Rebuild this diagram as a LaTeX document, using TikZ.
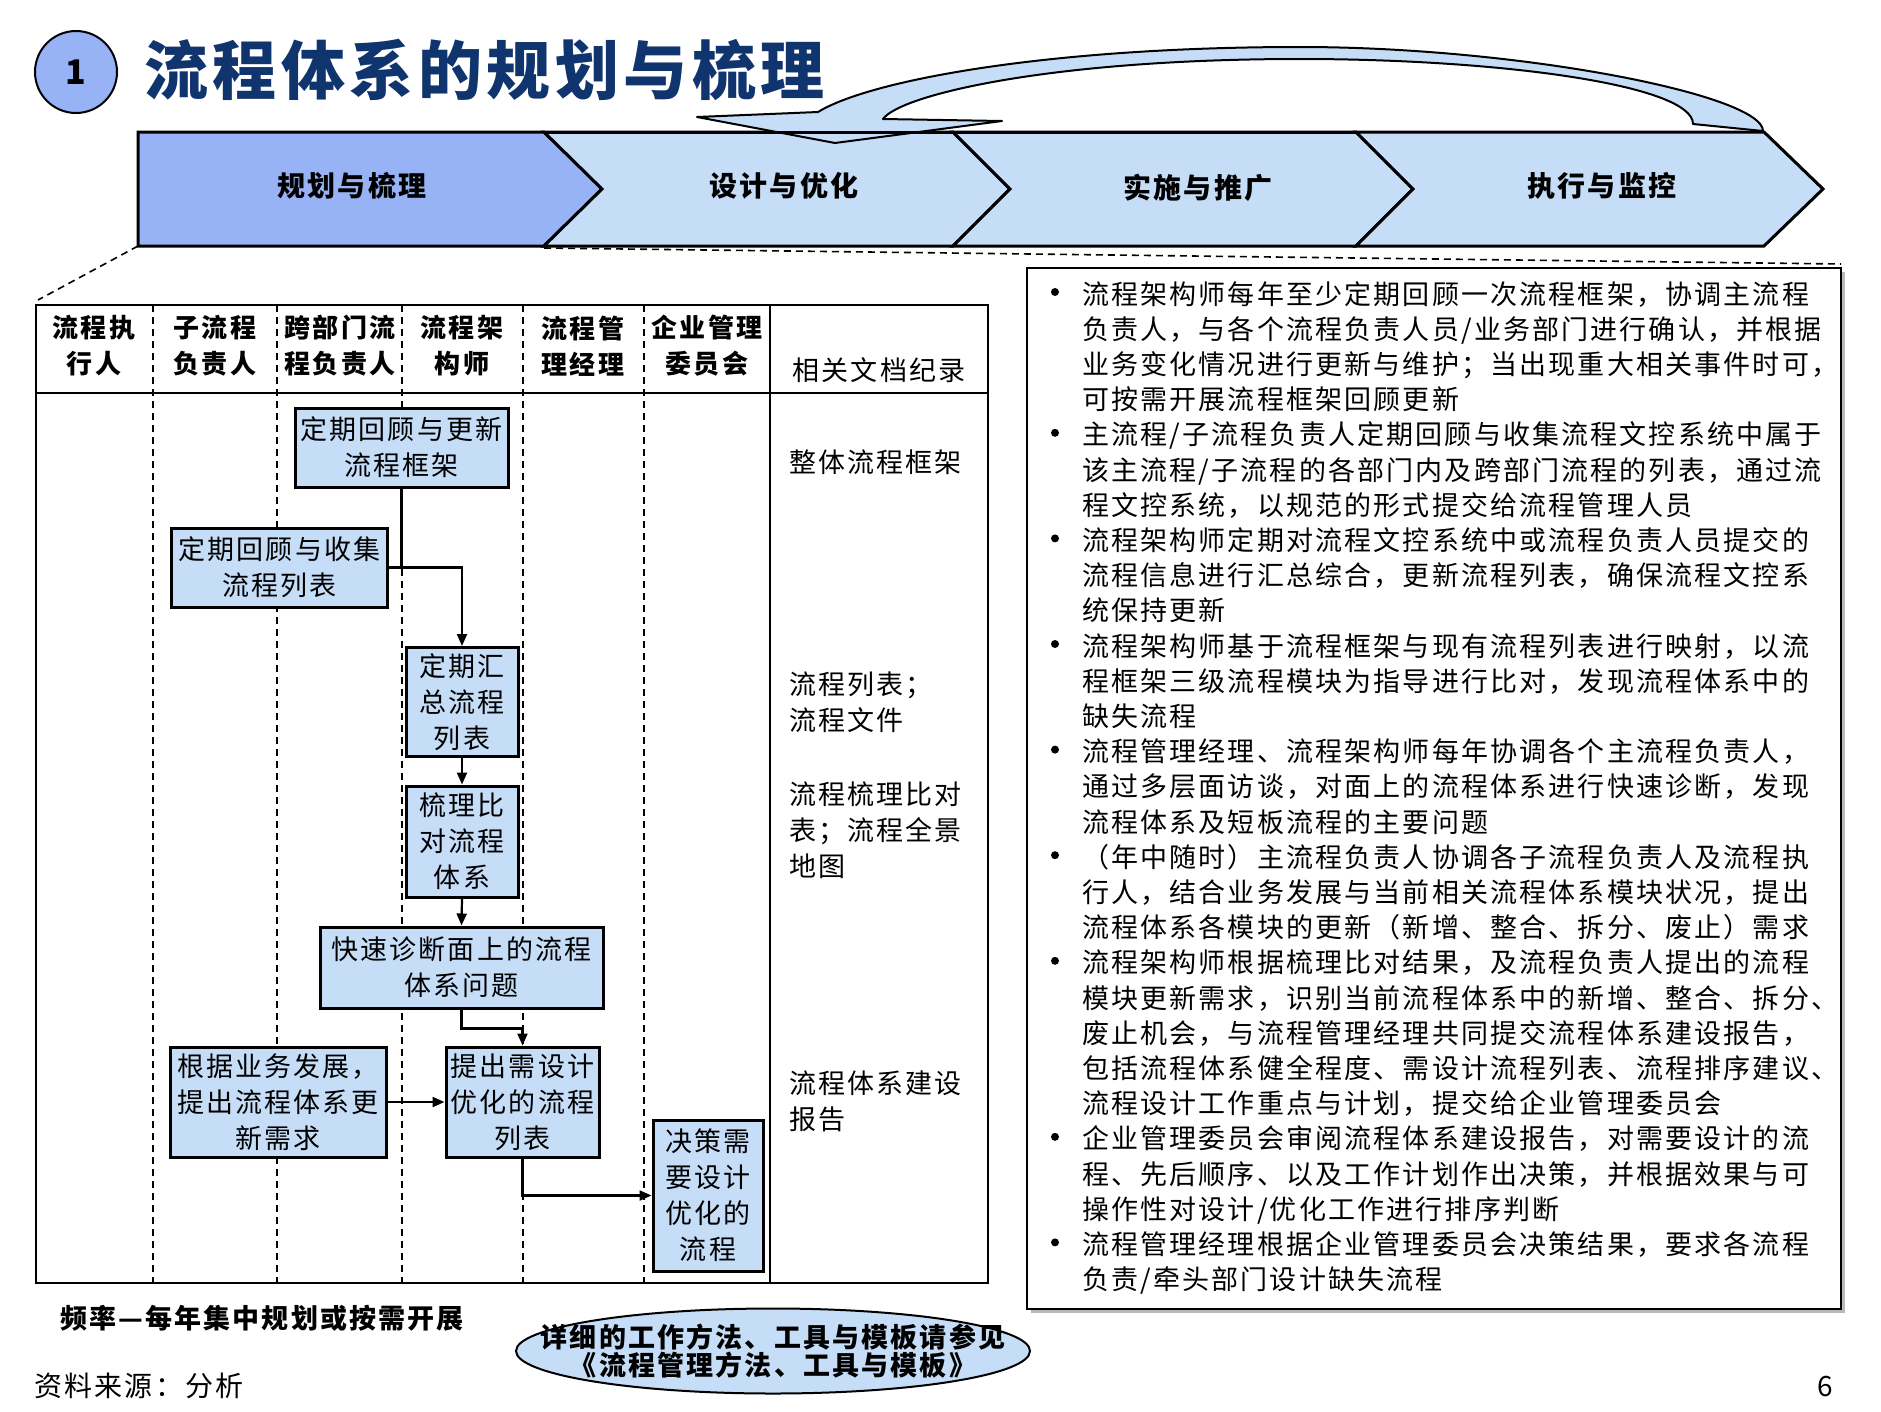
\documentclass[tikz,border=0pt]{standalone}
\usepackage{fontspec}
\setmainfont{Noto Sans CJK SC}[LetterSpace=8]
\usepackage{tikz}
\definecolor{titleNavy}{HTML}{10346E}
\definecolor{phaseBlue}{HTML}{98B2F6}
\definecolor{paleBlue}{HTML}{C6DDF8}
\usetikzlibrary{arrows.meta,positioning,shapes.geometric,calc}

\begin{document}
\begin{tikzpicture}[
  x=1pt, y=-1pt,
  font=\fontsize{27}{36}\selectfont,
  >=Latex,
  phase/.style={draw=black, line width=3pt, line join=miter},
  phaselabel/.style={font=\fontsize{28}{36}\selectfont\bfseries},
  lane/.style={line width=1.6pt, dash pattern=on 7pt off 5pt},
  head/.style={align=center, font=\fontsize{26}{36}\selectfont\bfseries},
  task/.style={draw=black, line width=3pt, fill=paleBlue, align=center, inner sep=0pt},
  doc/.style={anchor=west, align=left, inner sep=0pt},
  flow/.style={-{Triangle[length=12pt,width=10pt]}, line width=2.2pt},
  link/.style={line width=2.2pt},
  note/.style={anchor=base west, inner sep=0pt},
  dot/.style={circle, fill=black, minimum size=8pt, inner sep=0pt}
]

\useasboundingbox (0,0) rectangle (1881,1411);

% Title
\node[circle, draw=black, line width=2pt, fill=phaseBlue, minimum size=82pt, inner sep=0pt,
  font=\fontsize{34}{34}\selectfont\bfseries] (num) at (76,72) {1};
\node[anchor=west, inner sep=0pt, text=titleNavy,
  font=\fontsize{64}{64}\selectfont\bfseries\addfontfeature{LetterSpace=7}] (title) at (144,70) {流程体系的规划与梳理};

% Phases
\draw[phase, fill=phaseBlue] (138,132) -- (544,132) -- (602,189) -- (544,246) -- (138,246) -- cycle;
\draw[phase, fill=paleBlue] (544,132) -- (953,132) -- (1010,189) -- (953,246) -- (544,246) -- (602,189) -- cycle;
\draw[phase, fill=paleBlue] (953,132) -- (1356,132) -- (1413,189) -- (1356,246) -- (953,246) -- (1010,189) -- cycle;
\draw[phase, fill=paleBlue] (1356,132) -- (1764,132) -- (1823,189) -- (1764,246) -- (1356,246) -- (1413,189) -- cycle;
\node[phaselabel] (ph1) at (352,186) {规划与梳理};
\node[phaselabel] (ph2) at (784,186) {设计与优化};
\node[phaselabel] (ph3) at (1198,188) {实施与推广};
\node[phaselabel] (ph4) at (1602,186) {执行与监控};

% Return arrow
\draw[line width=2pt, fill=paleBlue, line join=round]
  (1763,131) .. controls (1763,95) and (1520,47) .. (1300,47)
  .. controls (1050,47) and (870,80) .. (818,112)
  -- (697,117) -- (835,143) -- (1002,121) -- (883,119)
  .. controls (900,95) and (1050,59) .. (1300,59)
  .. controls (1500,59) and (1693,85) .. (1693,124) -- cycle;
\draw[line width=3pt] (544,132) -- (1356,132);

% Zoom guides
\draw[lane] (138,246) -- (38,300);
\draw[lane] (544,248) -- (1841,264);

% Swimlanes
\draw[line width=2.5pt] (36,305) rectangle (988,1283);
\draw[line width=2.5pt] (36,393) -- (988,393);
\draw[line width=1.5pt] (770,305) -- (770,1283);
\foreach \x in {153,277,402,523,644}
  \draw[lane] (\x,305) -- (\x,1283);

\node[head] (h1) at (94,346) {流程执\\行人};
\node[head] (h2) at (215,346) {子流程\\负责人};
\node[head] (h3) at (340,346) {跨部门流\\程负责人};
\node[head] (h4) at (462,346) {流程架\\构师};
\node[head] (h5) at (583,346) {流程管\\理经理};
\node[head] (h6) at (707,346) {企业管理\\委员会};
\node (h7) at (879,370) {相关文档纪录};

% Tasks
\node[task, minimum width=213pt, minimum height=79pt] (b1) at (401.5,447.5) {定期回顾与更新\\流程框架};
\node[task, minimum width=216pt, minimum height=79pt] (b2) at (279.5,567.5) {定期回顾与收集\\流程列表};
\node[task, minimum width=112pt, minimum height=109pt] (b3) at (462,702) {定期汇\\总流程\\列表};
\node[task, minimum width=112pt, minimum height=111pt] (b4) at (462,841.5) {梳理比\\对流程\\体系};
\node[task, minimum width=283pt, minimum height=81pt] (b5) at (461.5,967.5) {快速诊断面上的流程\\体系问题};
\node[task, minimum width=216pt, minimum height=110pt] (b6) at (278,1102) {根据业务发展，\\提出流程体系更\\新需求};
\node[task, minimum width=153pt, minimum height=110pt] (b7) at (522.5,1102) {提出需设计\\优化的流程\\列表};
\node[task, minimum width=110pt, minimum height=151pt] (b8) at (708,1195.5) {决策需\\要设计\\优化的\\流程};

% Relations
\draw[link] (b1.south) -- (b1.south |- b2.east);
\draw[flow] (b2.east) -| (b3.north);
\draw[flow] (b3.south) -- (b4.north);
\draw[flow] (b4.south) -- (b5.north);
\draw[flow] (b5.south) -- ++(0,19) -| (b7.north);
\draw[flow] (b6.east) -- (b7.west);
\draw[flow] (b7.south) |- (b8.west);

% Documents
\node[doc] (d1) at (789,462) {整体流程框架};
\node[doc] (d2) at (789,702) {流程列表；\\流程文件};
\node[doc] (d3) at (789,830) {流程梳理比对\\表；流程全景\\地图};
\node[doc] (d4) at (789,1101) {流程体系建设\\报告};

% Notes
\fill[gray!55] (1031,272) rectangle (1845,1313);
\draw[line width=2pt, fill=white] (1027,268) rectangle (1841,1309);
\foreach \line [count=\i] in {
  {流程架构师每年至少定期回顾一次流程框架，协调主流程},
  {负责人，与各个流程负责人员/业务部门进行确认，并根据},
  {业务变化情况进行更新与维护；当出现重大相关事件时可，},
  {可按需开展流程框架回顾更新},
  {主流程/子流程负责人定期回顾与收集流程文控系统中属于},
  {该主流程/子流程的各部门内及跨部门流程的列表，通过流},
  {程文控系统，以规范的形式提交给流程管理人员},
  {流程架构师定期对流程文控系统中或流程负责人员提交的},
  {流程信息进行汇总综合，更新流程列表，确保流程文控系},
  {统保持更新},
  {流程架构师基于流程框架与现有流程列表进行映射，以流},
  {程框架三级流程模块为指导进行比对，发现流程体系中的},
  {缺失流程},
  {流程管理经理、流程架构师每年协调各个主流程负责人，},
  {通过多层面访谈，对面上的流程体系进行快速诊断，发现},
  {流程体系及短板流程的主要问题},
  {（年中随时）主流程负责人协调各子流程负责人及流程执},
  {行人，结合业务发展与当前相关流程体系模块状况，提出},
  {流程体系各模块的更新（新增、整合、拆分、废止）需求},
  {流程架构师根据梳理比对结果，及流程负责人提出的流程},
  {模块更新需求，识别当前流程体系中的新增、整合、拆分、},
  {废止机会，与流程管理经理共同提交流程体系建设报告，},
  {包括流程体系健全程度、需设计流程列表、流程排序建议、},
  {流程设计工作重点与计划，提交给企业管理委员会},
  {企业管理委员会审阅流程体系建设报告，对需要设计的流},
  {程、先后顺序、以及工作计划作出决策，并根据效果与可},
  {操作性对设计/优化工作进行排序判断},
  {流程管理经理根据企业管理委员会决策结果，要求各流程},
  {负责/牵头部门设计缺失流程}}
  \node[note] (note\i) at (1082,{304+35.2*(\i-1)}) {\line};
\foreach \i in {1,5,8,11,14,17,20,25,28}
  \node[dot] (dot\i) at (1055,{292+35.2*(\i-1)}) {};

% Footer
\node[anchor=west, inner sep=0pt, font=\fontsize{27}{27}\selectfont\bfseries] (freq) at (60,1318) {频率—每年集中规划或按需开展};
\node[anchor=west, inner sep=0pt, font=\fontsize{28}{28}\selectfont] (src) at (34,1386) {资料来源：分析};
\node[ellipse, draw=black, line width=2pt, fill=paleBlue, minimum width=514pt, minimum height=85pt] (oval) at (773,1351) {};
\node[align=center, font=\fontsize{27}{28}\selectfont\bfseries] (ovaltext) at (oval.center) {详细的工作方法、工具与模板请参见\\《流程管理方法、工具与模板》};
\node[font=\fontsize{28}{28}\selectfont] (page) at (1825,1386) {6};

\end{tikzpicture}
\end{document}
